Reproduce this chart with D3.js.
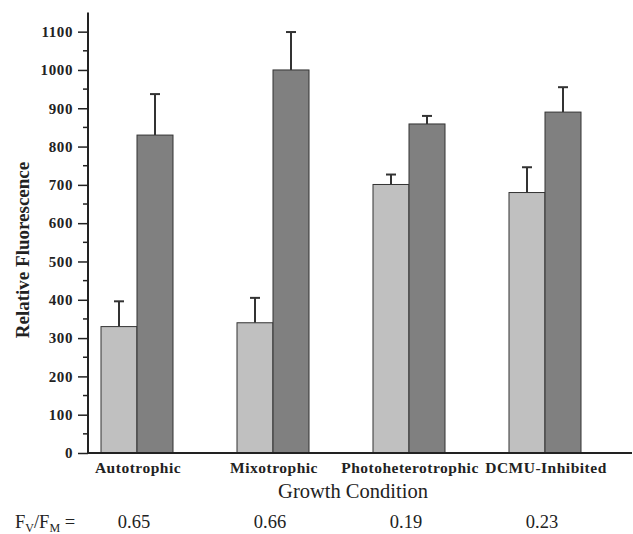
<!DOCTYPE html>
<html><head><meta charset="utf-8">
<script src="https://cdn.jsdelivr.net/npm/d3@7"></script>
<style>body{margin:0;background:#fff}svg{display:block}</style>
</head><body>
<svg id="c" width="633" height="534"></svg>
<script>
const categories = ["Autotrophic", "Mixotrophic", "Photoheterotrophic", "DCMU-Inhibited"];
const lightValues = [330, 340, 701, 680];
const lightErrors = [66, 65, 26, 66];
const darkValues = [830, 1000, 859, 890];
const darkErrors = [107, 99, 21, 65];
const fvfm = ["0.65", "0.66", "0.19", "0.23"];
const yTicks = [0, 100, 200, 300, 400, 500, 600, 700, 800, 900, 1000, 1100];

const svg = d3.select("#c");
const serif = "'Liberation Serif', 'Times New Roman', serif";
const y = d3.scaleLinear().domain([0, 1150]).range([453, 12.5]);
const x = d3.scalePoint().domain(categories).range([137, 545]);
const bw = 36;

// bars
const series = [
  {vals: lightValues, errs: lightErrors, color: "#c0c0c0", off: -bw},
  {vals: darkValues, errs: darkErrors, color: "#808080", off: 0}
];
series.forEach(s => {
  const g = svg.append("g");
  categories.forEach((c, i) => {
    const x0 = x(c) + s.off;
    const xc = x0 + bw / 2;
    g.append("line").attr("x1", xc).attr("x2", xc)
      .attr("y1", y(s.vals[i])).attr("y2", y(s.vals[i] + s.errs[i]))
      .attr("stroke", "#333").attr("stroke-width", 2);
    g.append("line").attr("x1", xc - 5).attr("x2", xc + 5)
      .attr("y1", y(s.vals[i] + s.errs[i])).attr("y2", y(s.vals[i] + s.errs[i]))
      .attr("stroke", "#333").attr("stroke-width", 2);
    g.append("rect").attr("x", x0).attr("y", y(s.vals[i]))
      .attr("width", bw).attr("height", y(0) - y(s.vals[i]))
      .attr("fill", s.color).attr("stroke", "#333").attr("stroke-width", 1);
  });
});

// y axis
const ya = svg.append("g").attr("transform", "translate(88,0)")
  .call(d3.axisLeft(y).tickValues(yTicks).tickSize(10).tickPadding(5).tickFormat(d3.format("d")));
ya.select(".domain").remove();
ya.selectAll("line").attr("stroke", "#222").attr("stroke-width", 1.5);
ya.selectAll("text").attr("font-family", serif).attr("font-weight", "bold")
  .attr("font-size", 15).attr("letter-spacing", 0.6).attr("fill", "#222");
// minor ticks
svg.append("g").selectAll("line").data(d3.range(50, 1150, 100)).join("line")
  .attr("x1", 83).attr("x2", 88).attr("y1", d => y(d)).attr("y2", d => y(d))
  .attr("stroke", "#222").attr("stroke-width", 1.5);
svg.append("line").attr("x1", 88).attr("x2", 88).attr("y1", y(1150)).attr("y2", y(0))
  .attr("stroke", "#222").attr("stroke-width", 2);
// x axis line
svg.append("line").attr("x1", 87).attr("x2", 632).attr("y1", y(0)).attr("y2", y(0))
  .attr("stroke", "#222").attr("stroke-width", 2);

// category labels
svg.append("g").selectAll("text").data(categories).join("text")
  .attr("x", d => x(d) + 1).attr("y", 473).attr("text-anchor", "middle")
  .attr("font-family", serif).attr("font-weight", "bold").attr("font-size", 15.5)
  .attr("letter-spacing", 0.5).attr("fill", "#222").text(d => d);

// axis titles
svg.append("text").attr("x", 353).attr("y", 498).attr("text-anchor", "middle")
  .attr("font-family", serif).attr("font-size", 20.5).attr("fill", "#222").text("Growth Condition");
svg.append("text").attr("transform", "translate(29,250) rotate(-90)").attr("text-anchor", "middle")
  .attr("font-family", serif).attr("font-weight", "bold").attr("font-size", 19)
  .attr("fill", "#222").text("Relative Fluorescence");

// Fv/Fm row
const fl = svg.append("text").attr("x", 15).attr("y", 528)
  .attr("font-family", serif).attr("font-size", 18.5).attr("fill", "#222");
fl.append("tspan").text("F");
fl.append("tspan").attr("font-size", 12).attr("dy", 4).text("V");
fl.append("tspan").attr("dy", -4).text("/F");
fl.append("tspan").attr("font-size", 12).attr("dy", 4).text("M");
fl.append("tspan").attr("dy", -4).text(" =");
svg.append("g").selectAll("text").data(fvfm).join("text")
  .attr("x", (d, i) => x(categories[i]) - 3).attr("y", 528).attr("text-anchor", "middle")
  .attr("font-family", serif).attr("font-size", 18.5).attr("fill", "#222").text(d => d);
</script>
</body></html>
